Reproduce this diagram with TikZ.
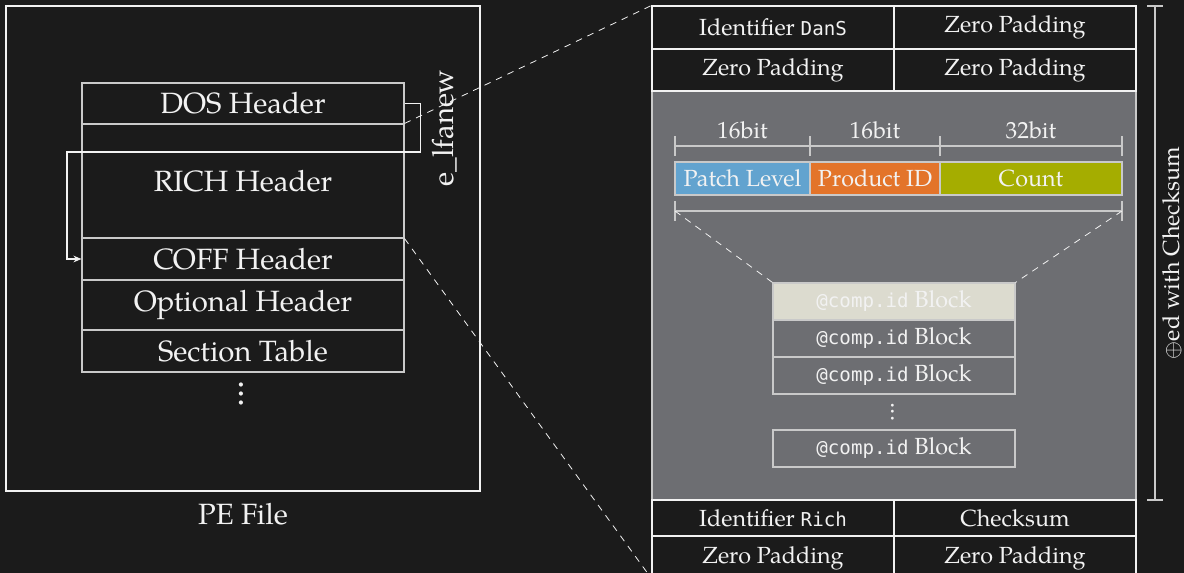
\documentclass[tikz,border=0pt]{standalone}
\usepackage{fontspec}
\setmainfont{TeX Gyre Pagella}
\newfontfamily\monof{DejaVu Sans Mono}[Scale=0.82]
\usetikzlibrary{arrows.meta,fit}
\definecolor{bg}{HTML}{1B1B1B}
\definecolor{fg}{HTML}{F2F2F2}
\definecolor{lineL}{HTML}{C9C9C9}
\definecolor{panel}{HTML}{6D6E72}
\definecolor{beige}{HTML}{DCDBCF}
\definecolor{fblue}{HTML}{62A3CF}
\definecolor{forange}{HTML}{E3742A}
\definecolor{folive}{HTML}{A5AD00}
\newcommand\fontL{\fontsize{22}{26}\selectfont}
\newcommand\fontM{\fontsize{17.5}{21}\selectfont}
\begin{document}
\begin{tikzpicture}[x=0.75pt,y=-0.75pt,
  every node/.style={text=fg},
  cellL/.style={draw=lineL, line width=0.8pt, fill=bg, inner sep=0pt},
  cellR/.style={draw=fg, line width=0.8pt, fill=bg, inner sep=0pt},
  field/.style={draw=lineL, line width=0.8pt, inner sep=0pt},
  block/.style={draw=lineL, line width=0.8pt, fill=panel, inner sep=0pt},
  txtL/.style={font=\fontL, inner sep=0pt},
  txtM/.style={font=\fontM, inner sep=0pt},
  vdotsnode/.style={rotate=-90, inner sep=0pt},
  zoomline/.style={draw=fg, line width=0.6pt, dash pattern=on 5pt off 4.5pt},
  dimline/.style={draw=lineL, line width=0.8pt},
  ptr/.style={draw=fg, line width=1pt, -{Stealth[length=6pt,width=5pt]}},
]
% canvas
\fill[bg] (0,0) rectangle (1184,573);
\useasboundingbox (0,0) rectangle (1184,573);

% ---------------- PE file ----------------
\node[draw=fg, line width=0.8pt, inner sep=0pt, fit={(6,6)(480,491)}] (pe) {};
\node[txtL] (pelabel) at (243,514) {PE File};

\node[cellL, fit={(82,83)(404,124)}]  (dos)  {};
\node[cellL, fit={(82,124)(404,238)}] (rich) {};
\node[cellL, fit={(82,238)(404,280)}] (coff) {};
\node[cellL, fit={(82,280)(404,330)}] (opt)  {};
\node[cellL, fit={(82,330)(404,372)}] (sect) {};
\node[txtL] at (dos)  {DOS Header};
\node[txtL] at (rich) {RICH Header};
\node[txtL] at (coff) {COFF Header};
\node[txtL] at (opt)  {Optional Header};
\node[txtL] at (sect) {Section Table};
\node[vdotsnode, font=\fontsize{27}{27}\selectfont] (pedots) at (241,394) {...};

% e_lfanew pointer
\draw[ptr] (dos.east) -- ++(16,0) |- (67,152) |- (coff.west);
\node[txtL, rotate=90] (lfanew) at (445,128) {e\_lfanew};

% ---------------- Rich header detail ----------------
\node[fill=panel, draw=lineL, line width=0.8pt, inner sep=0pt, fit={(652,91)(1136,500)}] (panel) {};

\node[cellR, fit={(652,6)(894,49)}]     (ida) {};
\node[cellR, fit={(894,6)(1136,49)}]    (zpa) {};
\node[cellR, fit={(652,49)(894,91)}]    (zpb) {};
\node[cellR, fit={(894,49)(1136,91)}]   (zpc) {};
\node[cellR, fit={(652,500)(894,536)}]  (idr) {};
\node[cellR, fit={(894,500)(1136,536)}] (chk) {};
\node[cellR, fit={(652,536)(894,578)}]  (zpd) {};
\node[cellR, fit={(894,536)(1136,578)}] (zpe) {};
\node[txtM] at (ida) {Identifier {\monof DanS}};
\node[txtM] at (zpa) {Zero Padding};
\node[txtM] at (zpb) {Zero Padding};
\node[txtM] at (zpc) {Zero Padding};
\node[txtM] at (idr) {Identifier {\monof Rich}};
\node[txtM] at (chk) {Checksum};
\node[txtM] at ([yshift=-1]zpd) {Zero Padding};
\node[txtM] at ([yshift=-1]zpe) {Zero Padding};

% zoom lines from the RICH header
\draw[zoomline] (rich.north east) -- (ida.north west);
\draw[zoomline] (rich.south east) -- (zpd.south west);

% bit widths
\coordinate (t1) at (675,146);
\coordinate (t2) at (810,146);
\coordinate (t3) at (940,146);
\coordinate (t4) at (1122,146);
\draw[dimline] (t1) -- (t4);
\foreach \t in {t1,t2,t3,t4} \draw[dimline] ([yshift=-7.5]\t) -- ([yshift=7.5]\t);
\node[txtM] (w1) at (742.5,130) {16bit};
\node[txtM] (w2) at (875,130)   {16bit};
\node[txtM] (w3) at (1031,130)  {32bit};

% @comp.id fields
\node[field, fill=fblue,   fit={(675,162)(810,195)}]  (patch) {};
\node[field, fill=forange, fit={(810,162)(940,195)}]  (prod)  {};
\node[field, fill=folive,  fit={(940,162)(1122,195)}] (count) {};
\node[txtM] at (patch) {Patch Level};
\node[txtM] at (prod)  {Product ID};
\node[txtM] at (count) {Count};

% bracket under the fields
\coordinate (b1) at (675,211);
\coordinate (b2) at (1122,211);
\draw[dimline] (b1) -- (b2);
\foreach \t in {b1,b2} \draw[dimline] ([yshift=-7.5]\t) -- ([yshift=7.5]\t);

% @comp.id blocks
\node[block, fill=beige, fit={(773,283)(1015,320)}] (blk1) {};
\node[block, fit={(773,320)(1015,357)}] (blk2) {};
\node[block, fit={(773,357)(1015,394)}] (blk3) {};
\node[block, fit={(773,430)(1015,467)}] (blk4) {};
\foreach \b in {blk1,blk2,blk3,blk4}
  \node[txtM] at (\b) {{\monof @comp.id} Block};
\node[vdotsnode, font=\fontsize{19}{19}\selectfont] (blkdots) at (893,412) {...};

\draw[zoomline] (b1) -- (blk1.north west);
\draw[zoomline] (b2) -- (blk1.north east);

% XOR range
\coordinate (x1) at (1155,6);
\coordinate (x2) at (1155,500);
\draw[dimline] (x1) -- (x2);
\draw[dimline] ([xshift=-6]x1) -- ([xshift=6]x1);
\draw[dimline] ([xshift=-6]x2) -- ([xshift=6]x2);
\node[txtM, rotate=90] (xorlabel) at (1172,253) {$\oplus$ed with Checksum};
\end{tikzpicture}
\end{document}
